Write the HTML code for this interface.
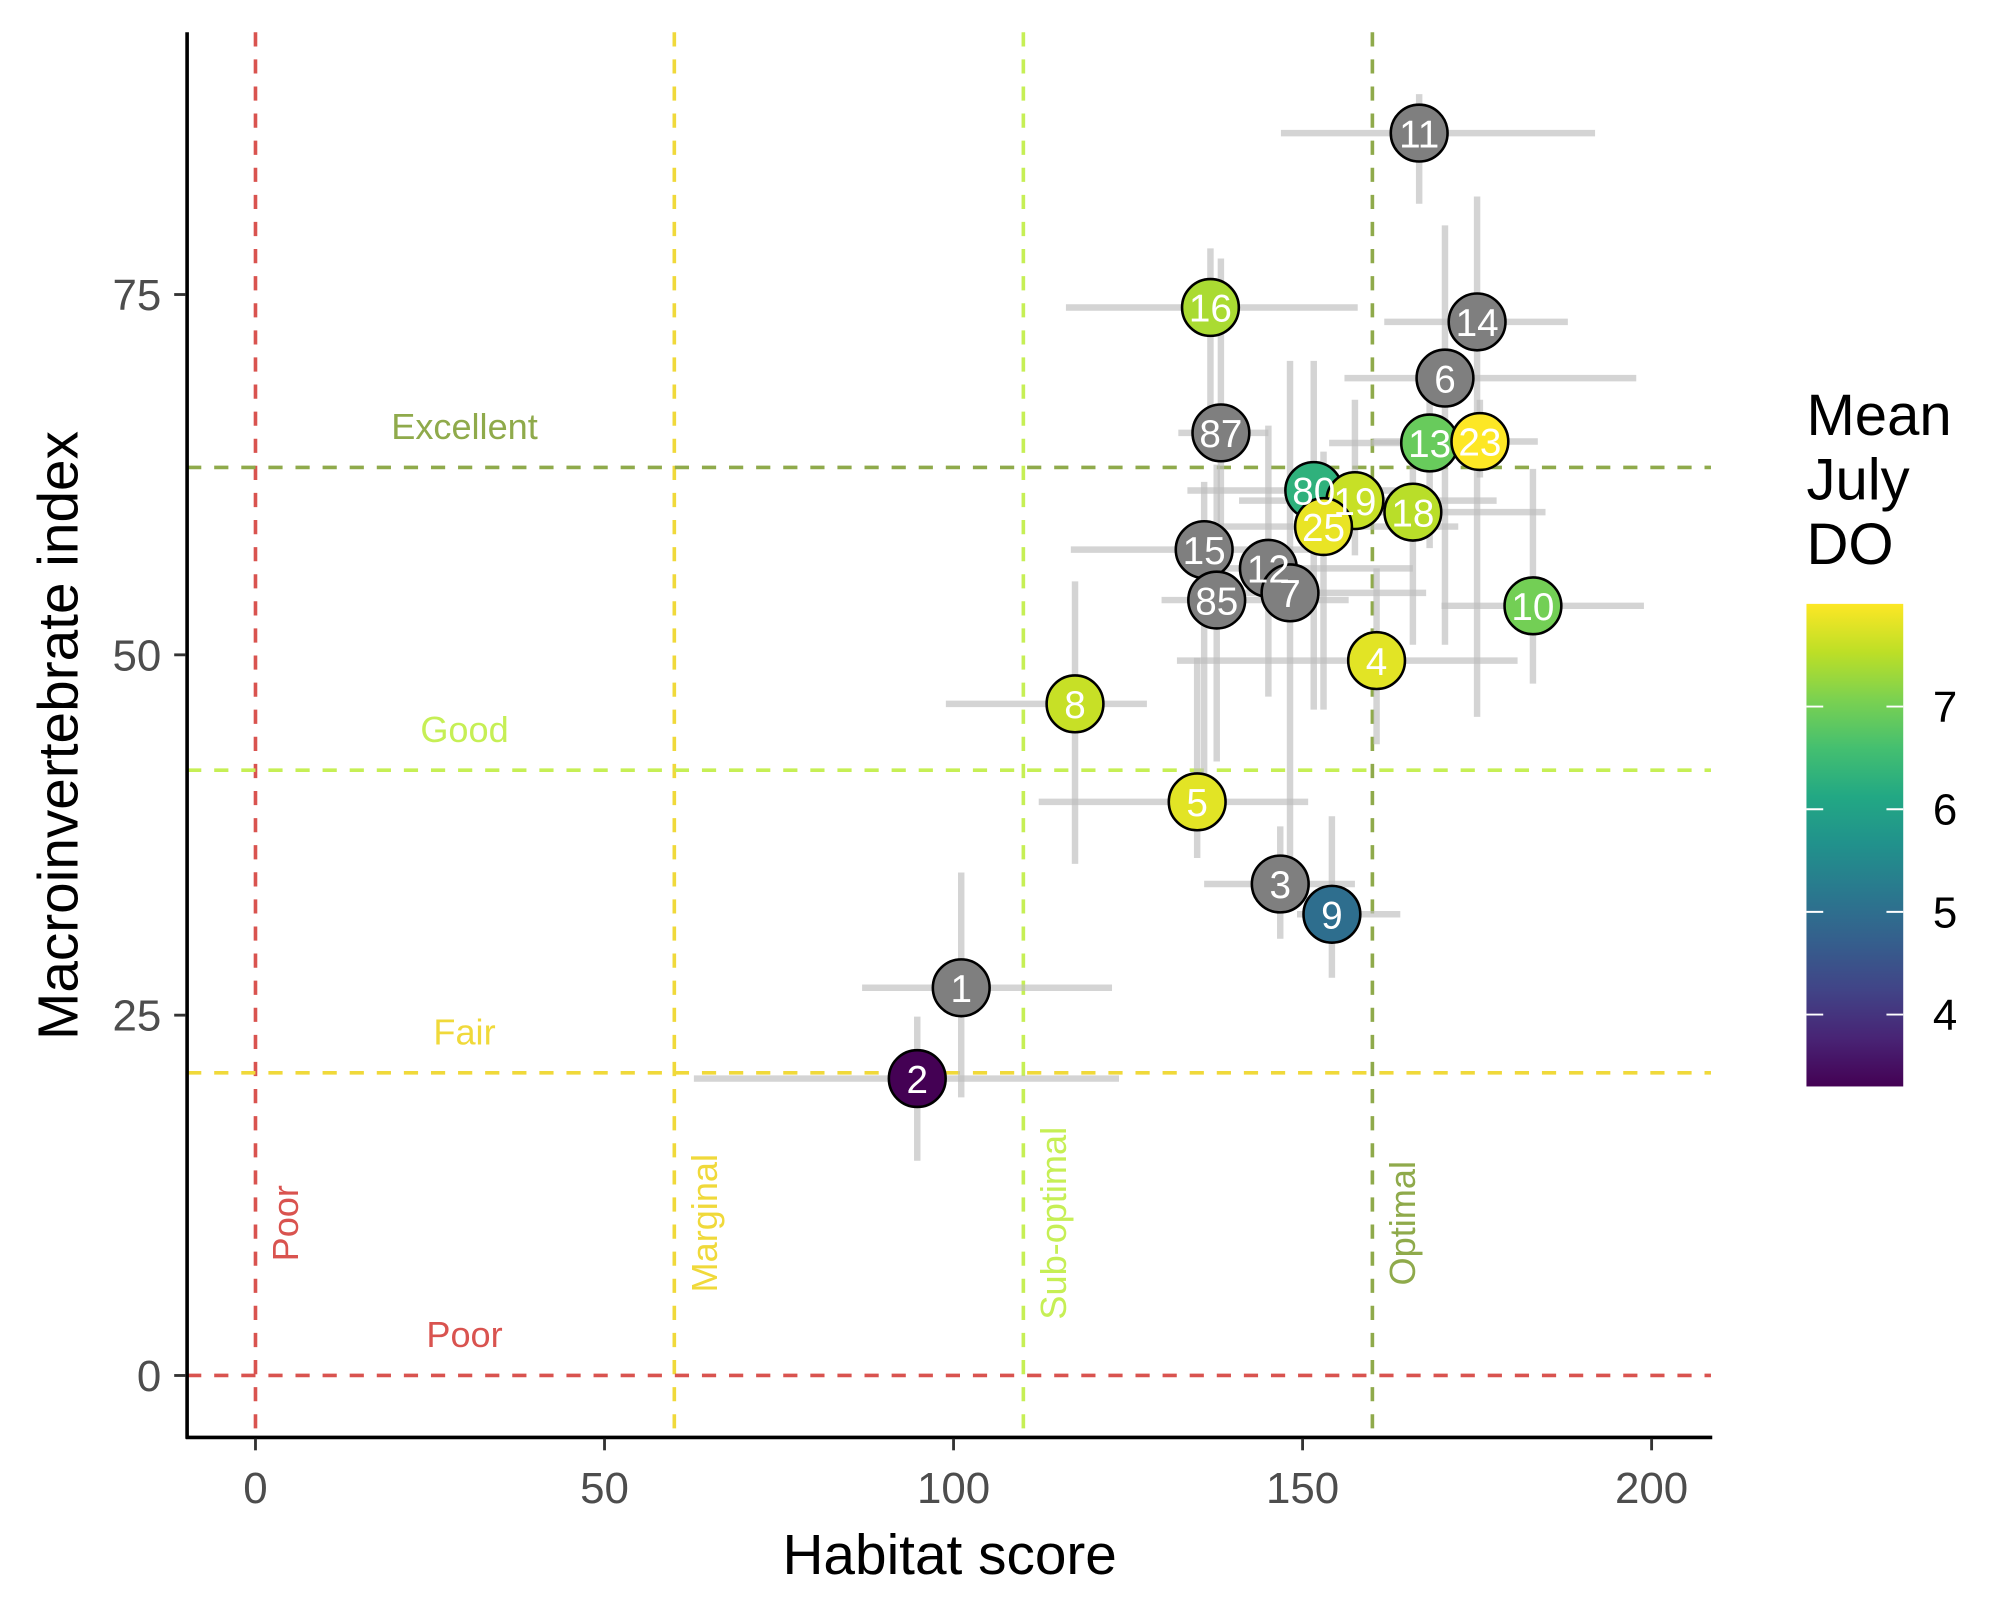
<!DOCTYPE html>
<html><head><meta charset="utf-8"><style>html,body{margin:0;padding:0;background:#fff}svg{display:block}</style></head>
<body>
<svg id="chart" width="2000" height="1600" viewBox="0 0 1550 1240" xmlns="http://www.w3.org/2000/svg" font-family="Liberation Sans, Arial, sans-serif">
<defs>
<linearGradient id="vir" x1="0" y1="1" x2="0" y2="0">
<stop offset="0" stop-color="#440154"/><stop offset="0.1" stop-color="#482475"/><stop offset="0.2" stop-color="#414487"/><stop offset="0.3" stop-color="#355f8d"/><stop offset="0.4" stop-color="#2a788e"/><stop offset="0.5" stop-color="#21918c"/><stop offset="0.6" stop-color="#22a884"/><stop offset="0.7" stop-color="#44bf70"/><stop offset="0.8" stop-color="#7ad151"/><stop offset="0.9" stop-color="#bddf26"/><stop offset="1" stop-color="#fde725"/>
</linearGradient>
</defs>
<g id="refs"></g>
<g id="errs"></g>
<g id="pts"></g>
<g id="lbls"></g>
<g id="axes"></g>
<g id="legend"></g>
</svg>
<script>
const ids   = ["11","16","14","6","87","80","19","25","13","23","18","15","85","12","7","10","4","8","5","3","9","1","2"];
const hab   = [166.7,136.8,175.0,170.4,138.3,151.6,157.5,153.0,168.2,175.4,165.8,135.9,137.7,145.1,148.2,183.0,160.6,117.4,134.9,146.8,154.2,101.1,94.8];
const habLo = [146.9,116.1,161.7,156.0,132.2,133.5,140.9,136.8,153.8,160.0,152.9,116.8,129.8,135.3,134.4,169.9,132.0,98.9,112.2,135.9,149.2,86.9,62.8];
const habHi = [191.9,157.9,188.0,197.8,145.1,166.7,177.8,172.3,176.0,183.7,184.8,155.1,156.6,165.8,167.7,198.9,180.8,127.7,150.8,157.5,164.0,122.7,123.7];
const mac   = [86.2,74.1,73.1,69.2,65.4,61.4,60.7,58.9,64.7,64.8,59.9,57.3,53.8,56.0,54.3,53.4,49.6,46.6,39.8,34.1,32.0,26.9,20.6];
const macLo = [81.3,66.0,45.7,50.7,56.0,46.2,56.9,46.2,57.4,62.3,50.7,40.0,42.6,47.1,33.7,48.0,43.8,35.5,35.9,30.3,27.6,19.3,14.9];
const macHi = [88.9,78.2,81.8,79.8,77.5,70.4,67.7,64.1,70.4,67.7,65.9,62.0,63.2,65.9,70.4,62.9,56.0,55.1,49.8,38.1,38.8,34.9,24.9];
const dO    = [null,7.4,null,null,null,6.3,7.6,7.85,6.9,8.0,7.5,null,null,null,null,7.0,7.8,7.6,7.8,null,5.0,null,3.3];
const xTicks = [0,50,100,150,200];
const yTicks = [0,25,50,75];
const legTicks = [4,5,6,7];
const vRefs = [0,60,110,160];
const vRefLabels = ["Poor","Marginal","Sub-optimal","Optimal"];
const hRefs = [0,21,42,63];
const hRefLabels = ["Poor","Fair","Good","Excellent"];
const refColors = ["#d9534f","#f0d93a","#c6ef55","#8faa4b"];

const NS="http://www.w3.org/2000/svg";
const X=v=>198+v*5.41, Y=v=>1066-v*11.17;
const doMin=3.3, doMax=8.0, L=v=>842-(v-doMin)/(doMax-doMin)*374;
const stops=["#440154","#482475","#414487","#355f8d","#2a788e","#21918c","#22a884","#44bf70","#7ad151","#bddf26","#fde725"];
function hex(h){return [1,3,5].map(i=>parseInt(h.substr(i,2),16));}
function vir(v){let t=Math.max(0,Math.min(1,(v-doMin)/(doMax-doMin)))*10;let i=Math.min(9,Math.floor(t)),f=t-i;const a=hex(stops[i]),b=hex(stops[i+1]);return "rgb("+a.map((c,k)=>Math.round(c+(b[k]-c)*f)).join(",")+")";}
function mk(tag,attrs,parent,text){const e=document.createElementNS(NS,tag);for(const k in attrs)e.setAttribute(k,attrs[k]);if(text!==undefined)e.textContent=text;parent.appendChild(e);return e;}
const refs=document.getElementById('refs'),errs=document.getElementById('errs'),pts=document.getElementById('pts'),lbls=document.getElementById('lbls'),axes=document.getElementById('axes'),leg=document.getElementById('legend');

vRefs.forEach((v,i)=>{
  const l=mk('line',{x1:X(v),x2:X(v),y1:25,y2:1114,stroke:refColors[i],'stroke-width':2.8,'stroke-dasharray':'11,10'},refs);
  
  
  const t=mk('text',{x:X(v)+33,y:948,fill:refColors[i],'font-size':28,'text-anchor':'middle',transform:'rotate(-90 '+(X(v)+33)+' 948)'},refs,vRefLabels[i]);
  
  
});
hRefs.forEach((v,i)=>{
  const l=mk('line',{x1:145,x2:1326,y1:Y(v),y2:Y(v),stroke:refColors[i],'stroke-width':2.8,'stroke-dasharray':'11,10'},refs);
  
  
  const t=mk('text',{x:360,y:Y(v)-22,fill:refColors[i],'font-size':28,'text-anchor':'middle'},refs,hRefLabels[i]);
  
  
});
ids.forEach((id,i)=>{
  const a=mk('line',{x1:X(habLo[i]),x2:X(habHi[i]),y1:Y(mac[i]),y2:Y(mac[i]),stroke:'#bdbdbd','stroke-opacity':0.65,'stroke-width':5},errs);
  
  
  const b=mk('line',{x1:X(hab[i]),x2:X(hab[i]),y1:Y(macLo[i]),y2:Y(macHi[i]),stroke:'#bdbdbd','stroke-opacity':0.65,'stroke-width':5},errs);
  
  
});
ids.forEach((id,i)=>{
  const c=mk('circle',{cx:X(hab[i]),cy:Y(mac[i]),r:22,fill:dO[i]==null?'#7f7f7f':vir(dO[i]),stroke:'#000','stroke-width':2},pts);
  
  
});
ids.forEach((id,i)=>{
  const t=mk('text',{x:X(hab[i]),y:Y(mac[i])+11,fill:'#fff','font-size':30,'text-anchor':'middle'},lbls,id);
  
  
});
let e;
e=mk('line',{x1:145,x2:145,y1:25,y2:1115,stroke:'#000','stroke-width':2.8},axes);


e=mk('line',{x1:144,x2:1327,y1:1114,y2:1114,stroke:'#000','stroke-width':2.8},axes);


xTicks.forEach(v=>{
  e=mk('line',{x1:X(v),x2:X(v),y1:1115,y2:1124,stroke:'#333','stroke-width':2.2},axes);
  
  
  e=mk('text',{x:X(v),y:1165,fill:'#4d4d4d','font-size':34,'text-anchor':'middle'},axes,String(v));
  
  
});
yTicks.forEach(v=>{
  e=mk('line',{x1:135,x2:144,y1:Y(v),y2:Y(v),stroke:'#333','stroke-width':2.2},axes);
  
  
  e=mk('text',{x:125,y:Y(v)+12,fill:'#4d4d4d','font-size':34,'text-anchor':'end'},axes,String(v));
  
  
});
e=mk('text',{x:736,y:1220,fill:'#000','font-size':44,'text-anchor':'middle'},axes,'Habitat score');


e=mk('text',{x:60,y:570,fill:'#000','font-size':44,'text-anchor':'middle',transform:'rotate(-90 60 570)'},axes,'Macroinvertebrate index');


["Mean","July","DO"].forEach((s,i)=>{
  e=mk('text',{x:1400,y:337+i*50,fill:'#000','font-size':45},leg,s);
  
  
});
e=mk('rect',{x:1400,y:468,width:75,height:374,fill:'url(#vir)'},leg);


legTicks.forEach(v=>{
  mk('line',{x1:1400,x2:1413,y1:L(v),y2:L(v),stroke:'#fff','stroke-width':1.5},leg);
  mk('line',{x1:1462,x2:1475,y1:L(v),y2:L(v),stroke:'#fff','stroke-width':1.5},leg);
  e=mk('text',{x:1498,y:L(v)+12,fill:'#000','font-size':34},leg,String(v));
  
  
});
</script>
</body></html>
